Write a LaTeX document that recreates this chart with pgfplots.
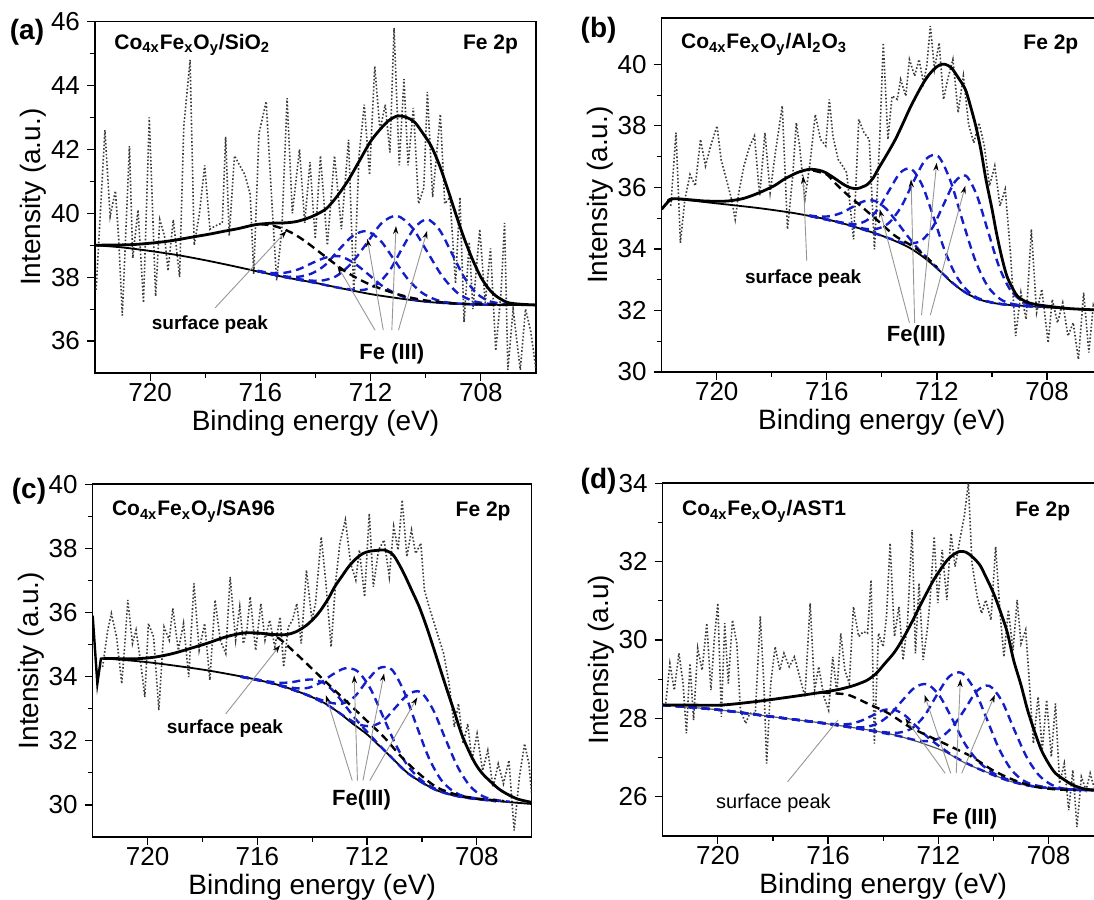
\documentclass[border=0pt]{standalone}
\usepackage{fontspec}
\setmainfont{Liberation Sans}
\usepackage{pgfplots}
\pgfplotsset{compat=1.18}
\usetikzlibrary{arrows.meta}
\definecolor{compblue}{RGB}{20,30,200}
\definecolor{noisegray}{RGB}{60,60,60}
\definecolor{anngray}{RGB}{150,150,150}
\pgfplotsset{
  xpsaxis/.style={
    scale only axis, anchor=south west,
    x dir=reverse, xmin=706, xmax=722,
    xtick={708,712,716,720},
    minor x tick num=1, minor y tick num=1,
    tick align=outside, xtick pos=left, ytick pos=left,
    major tick length=4pt, minor tick length=2.5pt,
    tick style={black, line width=0.6pt},
    axis line style={line width=0.7pt},
    ticklabel style={font=\fontsize{13}{15}\selectfont},
    xticklabel style={inner sep=1pt},
    /pgf/number format/assume math mode=true,
    label style={font=\fontsize{14}{16}\selectfont},
    xlabel={Binding energy (eV)},
    xlabel style={at={(axis description cs:0.5,-0.142)}, anchor=center, inner sep=0pt},
    ylabel style={at={(axis description cs:-0.14,0.5)}, anchor=center},
  },
  noisy/.style={noisegray, densely dotted, line width=0.8pt, mark=none},
  env/.style={black, line width=1.4pt, smooth, mark=none},
  bgl/.style={black, line width=0.9pt, smooth, mark=none},
  comp/.style={compblue, line width=1.2pt, dash pattern=on 4pt off 2.5pt, smooth, mark=none},
  surf/.style={black, line width=1.2pt, dash pattern=on 4pt off 2.5pt, smooth, mark=none},
}
\tikzset{
  ann/.style={anngray, line width=0.45pt, -{Stealth[length=4pt,width=2.6pt,color=black]}},
  annl/.style={anngray, line width=0.45pt},
  ttl/.style={font=\fontsize{10.5}{12}\selectfont\bfseries},
  sp/.style={font=\fontsize{9.5}{11}\selectfont\bfseries},
  fe/.style={font=\fontsize{11}{13}\selectfont\bfseries},
  plab/.style={font=\fontsize{14}{16}\selectfont\bfseries},
}
\begin{document}
\begin{tikzpicture}
\path[use as bounding box] (0,0) rectangle (547pt,450pt);

% ---------------- (a) ----------------
\begin{axis}[xpsaxis, at={(47.5pt,263.5pt)}, width=220.5pt, height=175.7pt,
  ymin=35, ymax=46, ytick={36,38,...,46}, ylabel={Intensity (a.u.)}]
\addplot[noisy] coordinates {(721.96,37.6) (721.64,42.6) (721.45,39.9) (721.26,40.7) (721.14,39.2) (721.01,36.8) (720.75,42.1) (720.63,38.6) (720.44,40.1) (720.24,37.2) (720.03,43.0) (719.80,37.4) (719.65,39.8) (719.48,39.3) (719.35,38.2) (719.16,39.8) (718.93,38.0) (718.78,42.7) (718.55,44.8) (718.40,39.0) (718.21,40.0) (718.02,41.5) (717.83,39.5) (717.64,39.6) (717.38,39.7) (717.26,42.4) (717.13,39.3) (716.94,41.8) (716.75,41.5) (716.56,41.2) (716.37,40.6) (716.24,38.1) (716.05,42.5) (715.79,43.5) (715.60,40.6) (715.41,37.9) (715.22,39.5) (715.03,43.6) (714.84,40.0) (714.58,42.0) (714.39,39.7) (714.20,41.6) (714.01,39.2) (713.82,41.8) (713.57,39.0) (713.31,41.8) (713.06,39.5) (712.80,42.3) (712.61,37.5) (712.42,41.8) (712.23,43.4) (712.04,41.2) (711.85,44.6) (711.66,42.6) (711.47,43.4) (711.30,41.9) (711.15,45.8) (710.96,41.5) (710.79,44.2) (710.64,41.5) (710.45,43.3) (710.26,40.3) (710.07,40.8) (709.94,43.8) (709.75,40.5) (709.47,43.1) (709.31,40.3) (709.12,40.5) (708.92,37.8) (708.76,40.5) (708.61,36.6) (708.42,39.1) (708.29,37.0) (708.04,39.5) (707.84,37.2) (707.65,38.9) (707.46,35.7) (707.27,37.5) (707.14,39.7) (707.02,35.1) (706.83,37.0) (706.57,35.1) (706.38,37.0) (706.19,36.3) (706.00,35.1)};
\addplot[bgl] coordinates {(722,39.0) (721,38.93) (720,38.82) (719,38.69) (718,38.53) (717,38.35) (716,38.16) (715,37.98) (714,37.82) (713,37.64) (712,37.47) (711,37.34) (710,37.23) (709,37.17) (708,37.14) (707,37.13) (706,37.12)};
\addplot[comp] coordinates {(716.1,38.20) (715.6,38.13) (715.1,38.14) (714.6,38.25) (714.1,38.45) (713.6,38.62) (713.1,38.65) (712.6,38.44) (712.1,38.10) (711.6,37.74) (711.1,37.49) (710.6,37.33) (710.1,37.25) (709.3,37.19) (708.3,37.15) (707.5,37.14)};
\addplot[comp] coordinates {(716.1,38.19) (715.15,38.03) (714.65,38.01) (714.15,38.11) (713.65,38.38) (713.15,38.86) (712.65,39.29) (712.15,39.44) (711.65,39.15) (711.15,38.55) (710.65,37.94) (710.15,37.52) (709.65,37.30) (709.15,37.20) (708.3,37.15) (707.5,37.14)};
\addplot[comp] coordinates {(716.1,38.19) (715.2,38.02) (714.35,37.91) (713.8,37.89) (713.25,38.03) (712.7,38.43) (712.15,39.05) (711.6,39.69) (711.05,39.92) (710.5,39.56) (709.95,38.80) (709.4,38.03) (708.85,37.51) (708.3,37.26) (707.75,37.17) (707.3,37.14)};
\addplot[comp] coordinates {(716.1,38.19) (715.0,37.98) (714.0,37.82) (713.3,37.69) (712.65,37.61) (712.2,37.61) (711.75,37.79) (711.3,38.22) (710.85,38.91) (710.4,39.55) (709.95,39.81) (709.5,39.48) (709.05,38.74) (708.6,37.99) (708.15,37.49) (707.7,37.25) (707.25,37.17) (707.0,37.14)};
\addplot[surf] coordinates {(716.0,39.66) (715.6,39.62) (715.2,39.52) (714.8,39.36) (714.4,39.14) (714.0,38.88) (713.5,38.55) (713.0,38.23) (712.5,37.97) (712.0,37.76) (711.5,37.6) (711.0,37.46) (710.5,37.35) (710.0,37.27) (709.5,37.22) (709.0,37.18) (708.5,37.16) (707.5,37.14) (707.0,37.13)};
\addplot[env] coordinates {(722.0,39.0) (721.0,39.01) (720.44,39.03) (719.8,39.08) (719.16,39.15) (718.5,39.25) (717.89,39.34) (717.3,39.44) (716.8,39.52) (716.2,39.64) (715.6,39.69) (715.1,39.70) (714.7,39.74) (714.3,39.84) (714.0,39.95) (713.6,40.15) (713.2,40.55) (712.8,41.05) (712.4,41.65) (712.0,42.25) (711.6,42.68) (711.3,42.93) (711.0,43.05) (710.7,43.0) (710.4,42.85) (710.1,42.5) (709.8,42.1) (709.5,41.5) (709.2,40.75) (708.9,39.95) (708.6,39.2) (708.3,38.55) (708.0,38.0) (707.7,37.62) (707.4,37.38) (707.0,37.2) (706.5,37.15) (706.0,37.13)};
\draw[ann] (axis cs:717.64,37.04) -- (axis cs:715.05,39.45);
\draw[ann] (axis cs:711.84,36.34) -- (axis cs:713.2,38.35);
\draw[ann] (axis cs:711.54,36.34) -- (axis cs:712.12,39.2);
\draw[ann] (axis cs:711.23,36.34) -- (axis cs:711.08,39.6);
\draw[ann] (axis cs:710.99,36.34) -- (axis cs:709.95,39.45);
\node[sp] at (axis cs:717.83,36.52) {surface peak};
\node[fe] at (axis cs:711.23,35.6) {Fe (III)};
\node[ttl, anchor=west] at (axis description cs:0.028,0.934) {Co\textsubscript{4x}Fe\textsubscript{x}O\textsubscript{y}/SiO\textsubscript{2}};
\node[ttl, anchor=east] at (axis description cs:0.975,0.934) {Fe 2p};
\end{axis}

% ---------------- (b) ----------------
\begin{axis}[xpsaxis, at={(330.85pt,264pt)}, width=220.2pt, height=176.9pt,
  ymin=30, ymax=41.5, ytick={30,32,...,40}, ylabel={Intensity (a.u.)}]
\addplot[noisy] coordinates {(721.67,35.4) (721.48,37.78) (721.32,34.2) (721.16,35.6) (720.97,36.42) (720.78,36.05) (720.59,37.56) (720.41,36.7) (720.22,37.35) (719.99,38.0) (719.84,36.9) (719.65,36.26) (719.46,35.6) (719.33,34.96) (719.20,35.83) (719.01,36.7) (718.82,37.3) (718.63,37.67) (718.44,35.72) (718.25,37.78) (718.06,35.83) (717.87,37.13) (717.62,38.65) (717.43,34.64) (717.24,36.37) (717.11,38.1) (716.99,37.35) (716.80,35.6) (716.61,36.8) (716.42,38.37) (716.23,37.56) (716.04,37.35) (715.91,38.86) (715.78,37.67) (715.59,36.91) (715.43,36.7) (715.28,36.48) (715.03,34.31) (714.84,38.21) (714.65,37.78) (714.46,37.56) (714.27,33.99) (714.08,37.56) (713.95,40.7) (713.78,37.56) (713.63,38.97) (713.44,38.86) (713.32,39.51) (713.13,38.97) (713.00,40.16) (712.81,39.62) (712.65,40.16) (712.49,39.40) (712.37,39.95) (712.24,41.25) (712.09,39.84) (711.92,40.7) (711.76,38.86) (711.61,39.51) (711.42,40.16) (711.23,38.43) (711.04,39.62) (710.85,38.05) (710.66,37.45) (710.47,38.1) (710.28,37.35) (710.09,36.05) (709.90,36.7) (709.71,35.4) (709.52,35.94) (709.33,33.88) (709.14,31.17) (708.95,32.58) (708.76,31.71) (708.57,34.64) (708.38,31.93) (708.19,32.69) (707.96,30.95) (707.81,32.36) (707.62,31.6) (707.43,32.25) (707.24,31.17) (707.05,31.6) (706.86,30.41) (706.67,32.58) (706.48,30.63) (706.32,32.15) (706.1,31.4)};
\addplot[bgl] coordinates {(722.0,35.29) (721.8,35.5) (721.6,35.63) (720.0,35.48) (718.5,35.33) (717.3,35.18) (716.5,35.05) (716.0,34.96) (715.5,34.85) (715.0,34.72) (714.5,34.58) (714.0,34.43) (713.5,34.25) (713.0,34.04) (712.5,33.74) (712.0,33.37) (711.5,32.94) (711.0,32.60) (710.5,32.37) (710.0,32.25) (709.5,32.19) (709.0,32.16) (708.0,32.10) (707.0,32.05) (706.0,32.0)};
\addplot[comp] coordinates {(716.65,35.09) (716.25,35.05) (715.85,35.07) (715.45,35.18) (715.05,35.37) (714.65,35.55) (714.25,35.56) (713.85,35.31) (713.45,34.87) (713.05,34.40) (712.65,33.97) (712.25,33.61) (711.85,33.25) (711.2,32.73) (710.5,32.37) (709.5,32.19) (708.5,32.13)};
\addplot[comp] coordinates {(716.6,35.07) (715.9,34.94) (715.33,34.84) (714.93,34.81) (714.53,34.94) (714.13,35.31) (713.73,35.91) (713.33,36.48) (712.93,36.60) (712.53,36.06) (712.13,35.05) (711.73,33.98) (711.33,33.17) (710.93,32.68) (710.53,32.41) (709.8,32.22) (708.5,32.13)};
\addplot[comp] coordinates {(716.6,35.07) (715.6,34.87) (714.65,34.66) (714.2,34.65) (713.75,34.84) (713.3,35.37) (712.85,36.19) (712.4,36.92) (711.95,37.01) (711.5,36.19) (711.05,34.86) (710.6,33.61) (710.15,32.78) (709.7,32.37) (709.25,32.21) (708.5,32.13)};
\addplot[comp] coordinates {(716.6,35.07) (715.5,34.85) (714.4,34.55) (713.35,34.23) (712.95,34.18) (712.55,34.28) (712.15,34.71) (711.75,35.46) (711.35,36.18) (710.95,36.38) (710.55,35.74) (710.15,34.59) (709.75,33.44) (709.35,32.69) (708.95,32.33) (708.55,32.17) (708.0,32.11)};
\addplot[surf] coordinates {(716.5,36.55) (716.0,36.42) (715.78,36.21) (715.3,35.8) (714.77,35.40) (714.14,34.91) (713.51,34.42) (712.87,34.08) (712.4,33.75) (712.0,33.40)};
\addplot[env] coordinates {(722.0,35.29) (721.8,35.5) (721.6,35.63) (721.0,35.6) (720.47,35.56) (720.0,35.55) (719.58,35.56) (719.08,35.63) (718.7,35.74) (718.32,35.88) (717.9,36.06) (717.56,36.26) (717.2,36.43) (716.92,36.53) (716.6,36.59) (716.3,36.56) (716.04,36.48) (715.66,36.26) (715.4,36.1) (715.15,35.99) (714.9,35.96) (714.7,36.02) (714.52,36.10) (714.3,36.33) (714.14,36.59) (713.8,37.1) (713.51,37.56) (713.25,38.05) (713.0,38.54) (712.75,38.98) (712.49,39.40) (712.3,39.65) (712.11,39.84) (711.9,39.98) (711.7,40.0) (711.48,39.89) (711.25,39.6) (710.97,39.19) (710.8,38.7) (710.59,38.0) (710.4,37.2) (710.22,36.26) (710.0,35.3) (709.84,34.53) (709.65,33.75) (709.46,33.12) (709.25,32.72) (709.08,32.47) (708.8,32.3) (708.44,32.2) (707.8,32.12) (707.18,32.06) (706.3,32.02) (706.0,32.0)};
\draw[ann] (axis cs:716.73,33.61) -- (axis cs:716.86,36.37);
\draw[ann] (axis cs:713.0,31.6) -- (axis cs:714.08,35.29);
\draw[ann] (axis cs:712.81,31.6) -- (axis cs:712.94,36.26);
\draw[ann] (axis cs:712.56,31.85) -- (axis cs:712.01,36.8);
\draw[ann] (axis cs:712.24,31.85) -- (axis cs:710.97,36.05);
\node[sp] at (axis cs:716.86,33.03) {surface peak};
\node[fe] at (axis cs:712.75,31.17) {Fe(III)};
\node[ttl, anchor=west] at (axis description cs:0.028,0.926) {Co\textsubscript{4x}Fe\textsubscript{x}O\textsubscript{y}/Al\textsubscript{2}O\textsubscript{3}};
\node[ttl, anchor=east] at (axis description cs:0.962,0.926) {Fe 2p};
\end{axis}

% ---------------- (c) ----------------
\begin{axis}[xpsaxis, at={(46.35pt,31.5pt)}, width=219.5pt, height=176.4pt,
  ymin=29, ymax=40, ytick={30,32,...,40}, ylabel={Intensity (a.u.)}]
\addplot[noisy] coordinates {(721.64,34.30) (721.45,35.45) (721.32,35.97) (721.13,35.24) (720.94,33.78) (720.81,35.24) (720.72,36.39) (720.55,35.03) (720.42,35.45) (720.23,34.30) (720.10,33.36) (719.97,35.66) (719.78,35.24) (719.59,32.95) (719.40,35.55) (719.21,35.14) (719.08,36.13) (718.88,34.82) (718.69,35.66) (718.50,33.99) (718.31,36.91) (718.12,34.82) (717.92,35.66) (717.73,33.89) (717.54,36.39) (717.35,35.14) (717.15,34.72) (716.99,37.11) (716.79,35.14) (716.64,36.18) (716.51,35.03) (716.38,35.45) (716.26,36.49) (716.06,34.82) (715.87,36.28) (715.72,35.14) (715.55,35.76) (715.36,34.93) (715.17,35.86) (715.04,34.30) (714.87,35.55) (714.72,35.76) (714.56,36.28) (714.40,35.03) (714.21,37.32) (714.01,35.76) (713.88,36.28) (713.67,38.36) (713.50,36.91) (713.31,34.93) (713.15,36.91) (712.99,38.16) (712.79,38.89) (712.60,37.53) (712.41,37.01) (712.28,37.95) (712.09,36.49) (711.92,39.09) (711.77,36.80) (711.58,37.95) (711.38,38.26) (711.19,37.11) (711.03,38.68) (710.87,37.95) (710.72,39.51) (710.55,37.74) (710.38,38.57) (710.23,37.84) (710.04,38.16) (709.91,36.70) (709.74,36.18) (709.59,35.76) (709.40,35.24) (709.21,34.72) (709.01,33.78) (708.82,32.43) (708.67,33.16) (708.50,31.91) (708.33,32.53) (708.18,31.39) (707.99,32.22) (707.79,31.07) (707.60,31.70) (707.41,30.55) (707.22,31.28) (707.03,30.66) (706.83,31.39) (706.64,29.20) (706.45,30.86) (706.26,31.91) (706.10,31.28) (706.0,30.3)};
\addplot[black, line width=1.2pt, mark=none] coordinates {(722.0,35.9) (721.83,33.78) (721.7,34.56) (721.6,34.57)};
\addplot[bgl] coordinates {(721.6,34.57) (720,34.45) (718,34.22) (716.5,33.99) (715.5,33.8) (715,33.68) (714.5,33.53) (714,33.36) (713.5,33.15) (713,32.86) (712.5,32.52) (712,32.2) (711.5,31.8) (711,31.39) (710.5,30.98) (710,30.7) (709.5,30.47) (709,30.33) (708.5,30.24) (708,30.18) (707,30.10) (706,30.03)};
\addplot[comp] coordinates {(716.6,34.0) (716.0,33.91) (715.6,33.85) (715.2,33.81) (714.8,33.82) (714.4,33.88) (714.0,33.91) (713.6,33.81) (713.2,33.53) (712.8,33.10) (712.4,32.66) (712.0,32.28) (711.6,31.91) (711.2,31.56) (710.5,30.98) (709.5,30.47) (708.5,30.24) (707.3,30.12)};
\addplot[comp] coordinates {(716.6,34.0) (715.8,33.86) (715.05,33.71) (714.6,33.64) (714.15,33.65) (713.7,33.81) (713.25,34.07) (712.8,34.26) (712.35,34.17) (711.9,33.66) (711.45,32.82) (711.0,31.96) (710.55,31.26) (710.1,30.83) (709.65,30.56) (708.8,30.29) (707.3,30.12)};
\addplot[comp] coordinates {(716.6,34.0) (715.5,33.8) (714.6,33.56) (713.8,33.31) (713.35,33.19) (712.9,33.16) (712.45,33.38) (712.0,33.87) (711.55,34.27) (711.1,34.22) (710.65,33.53) (710.2,32.48) (709.75,31.47) (709.3,30.78) (708.85,30.42) (708.4,30.26) (707.3,30.12)};
\addplot[comp] coordinates {(716.6,34.0) (715.4,33.78) (714.2,33.43) (713.4,33.09) (712.75,32.72) (712.3,32.51) (711.85,32.46) (711.4,32.63) (710.95,33.05) (710.5,33.45) (710.05,33.52) (709.6,32.98) (709.15,32.07) (708.7,31.19) (708.25,30.59) (707.8,30.28) (707.35,30.16) (706.8,30.1)};
\addplot[surf] coordinates {(716.2,35.36) (715.7,35.33) (715.23,35.2) (714.59,34.72) (713.95,34.2) (713.31,33.68) (712.67,33.16) (712.03,32.64) (711.38,32.11) (710.74,31.49) (710.1,30.97) (709.46,30.55) (708.82,30.34) (708.2,30.22) (707.54,30.16) (707.0,30.12)};
\addplot[env] coordinates {(721.6,34.57) (721.0,34.56) (720.36,34.56) (719.72,34.61) (719.08,34.72) (718.44,34.88) (717.79,35.05) (717.15,35.24) (716.51,35.36) (716.0,35.36) (715.49,35.32) (714.97,35.31) (714.59,35.40) (714.21,35.60) (713.9,35.85) (713.69,36.07) (713.4,36.45) (713.18,36.80) (712.9,37.15) (712.67,37.43) (712.4,37.68) (712.15,37.84) (711.9,37.91) (711.6,37.94) (711.38,37.95) (711.15,37.87) (711.0,37.74) (710.8,37.45) (710.62,37.15) (710.35,36.65) (710.1,36.18) (709.85,35.6) (709.59,34.93) (709.3,34.15) (709.08,33.57) (708.8,32.85) (708.56,32.22) (708.3,31.7) (708.05,31.28) (707.8,30.98) (707.54,30.76) (707.2,30.5) (706.9,30.34) (706.5,30.18) (706.0,30.08)};
\draw[ann] (axis cs:717.15,32.84) -- (axis cs:715.17,34.98);
\draw[ann] (axis cs:712.54,30.76) -- (axis cs:713.5,33.42);
\draw[ann] (axis cs:712.35,30.76) -- (axis cs:712.47,34.04);
\draw[ann] (axis cs:712.15,30.76) -- (axis cs:711.38,34.1);
\draw[ann] (axis cs:711.9,30.76) -- (axis cs:710.17,33.35);
\node[sp] at (axis cs:717.18,32.38) {surface peak};
\node[fe] at (axis cs:712.2,30.15) {Fe(III)};
\node[ttl, anchor=west] at (axis description cs:0.028,0.923) {Co\textsubscript{4x}Fe\textsubscript{x}O\textsubscript{y}/SA96};
\node[ttl, anchor=east] at (axis description cs:0.968,0.923) {Fe 2p};
\end{axis}

% ---------------- (d) ----------------
\begin{axis}[xpsaxis, at={(331.35pt,32pt)}, width=220.5pt, height=176.4pt,
  ymin=25, ymax=34, ytick={26,28,...,34}, ylabel={Intensity (a.u)}]
\addplot[noisy] coordinates {(721.89,28.38) (721.74,29.40) (721.58,28.72) (721.41,29.66) (721.26,28.89) (721.14,27.62) (721.01,29.40) (720.88,27.96) (720.73,29.79) (720.57,29.23) (720.40,30.43) (720.25,28.72) (720.13,30.0) (720.0,30.94) (719.87,28.04) (719.75,30.43) (719.62,28.89) (719.47,30.51) (719.31,29.91) (719.18,28.21) (718.99,27.87) (718.84,28.13) (718.64,28.13) (718.46,30.60) (718.33,28.89) (718.23,26.85) (718.08,28.89) (717.92,29.83) (717.75,29.23) (717.60,29.66) (717.41,29.32) (717.22,29.57) (717.03,29.06) (716.84,28.55) (716.65,30.94) (716.49,28.72) (716.34,29.32) (716.15,28.55) (715.98,28.21) (715.83,29.57) (715.68,28.64) (715.54,30.17) (715.39,29.23) (715.23,28.89) (715.08,30.85) (714.89,30.09) (714.72,30.21) (714.57,30.17) (714.44,31.53) (714.32,27.36) (714.17,30.17) (714.0,29.83) (713.88,30.60) (713.75,32.47) (713.59,30.09) (713.43,30.85) (713.28,29.49) (713.12,30.43) (712.95,32.81) (712.83,29.66) (712.70,31.45) (712.55,29.49) (712.40,30.26) (712.30,31.02) (712.15,32.64) (712.02,30.94) (711.86,32.30) (711.69,31.02) (711.54,32.72) (711.39,31.87) (711.22,32.55) (711.06,33.15) (710.91,34.0) (710.78,31.96) (710.59,31.11) (710.43,30.68) (710.28,31.02) (710.09,30.51) (709.92,32.38) (709.77,30.77) (709.62,29.57) (709.46,30.77) (709.29,29.74) (709.14,31.02) (709.0,29.91) (708.83,30.26) (708.71,29.06) (708.55,27.36) (708.38,28.55) (708.23,27.19) (708.07,28.47) (707.90,27.02) (707.75,28.38) (707.60,26.34) (707.43,26.85) (707.27,25.66) (707.12,26.68) (706.97,25.23) (706.81,26.51) (706.64,26.17) (706.49,26.60) (706.39,26.34) (706.2,26.0) (706.0,26.3)};
\addplot[black!65, line width=0.6pt, smooth, mark=none] coordinates {(722,28.34) (720,28.22) (718,28.04) (716,27.86) (714,27.64) (713,27.46) (712,27.22) (711.5,27.05) (711,26.85) (710.5,26.70) (710,26.56) (709.5,26.42) (709,26.32) (708.5,26.26) (708,26.21) (707,26.18) (706,26.16)};
\addplot[comp] coordinates {(722,28.34) (720,28.22) (718,28.04) (716.0,27.87) (715.6,27.85) (715.2,27.86) (714.8,27.94) (714.4,28.07) (714.0,28.21) (713.6,28.22) (713.2,28.07) (712.8,27.80) (712.4,27.53) (712.0,27.31) (711.6,27.11) (711.2,26.94) (710.5,26.70) (709.5,26.42) (708.5,26.26) (707.0,26.18) (706.3,26.17)};
\addplot[comp] coordinates {(722,28.34) (720,28.22) (718,28.04) (716.2,27.88) (715.1,27.78) (714.65,27.78) (714.2,27.87) (713.75,28.10) (713.3,28.46) (712.85,28.79) (712.4,28.87) (711.95,28.57) (711.5,27.99) (711.05,27.37) (710.6,26.94) (710.15,26.67) (709.7,26.50) (708.8,26.30) (707.5,26.19) (706.3,26.17)};
\addplot[comp] coordinates {(722,28.34) (720,28.22) (718,28.04) (716.0,27.86) (714.8,27.73) (713.85,27.64) (713.4,27.64) (712.95,27.75) (712.5,28.07) (712.05,28.60) (711.6,29.07) (711.15,29.16) (710.7,28.75) (710.25,28.00) (709.8,27.23) (709.35,26.69) (708.9,26.41) (708.45,26.29) (707.5,26.19) (706.3,26.17)};
\addplot[comp] coordinates {(722,28.34) (720,28.22) (718,28.04) (716,27.86) (714.5,27.69) (713.5,27.56) (712.85,27.45) (712.4,27.42) (711.95,27.50) (711.5,27.77) (711.05,28.22) (710.6,28.70) (710.15,28.83) (709.7,28.45) (709.25,27.72) (708.8,27.02) (708.35,26.55) (707.9,26.31) (707.45,26.21) (706.8,26.18) (706.3,26.17)};
\addplot[surf] coordinates {(716.2,28.66) (715.83,28.64) (715.27,28.6) (714.57,28.38) (713.81,28.13) (713.06,27.79) (712.3,27.53) (711.54,27.28) (710.78,27.02) (710.03,26.68) (709.27,26.43) (708.51,26.26) (707.75,26.19) (707.0,26.17)};
\addplot[env] coordinates {(722.0,28.34) (721.0,28.34) (719.87,28.34) (718.61,28.43) (717.35,28.55) (716.09,28.68) (715.6,28.74) (715.2,28.81) (714.9,28.88) (714.57,28.98) (714.25,29.15) (713.94,29.40) (713.6,29.68) (713.31,30.0) (713.0,30.4) (712.68,30.85) (712.4,31.23) (712.17,31.53) (711.9,31.82) (711.67,32.04) (711.45,32.18) (711.22,32.26) (711.0,32.24) (710.78,32.13) (710.5,31.92) (710.28,31.62) (710.0,31.2) (709.77,30.77) (709.5,30.2) (709.27,29.49) (709.0,28.85) (708.76,28.21) (708.5,27.65) (708.26,27.19) (708.0,26.85) (707.75,26.60) (707.4,26.42) (707.12,26.30) (706.7,26.2) (706.3,26.17) (706.0,26.15)};
\draw[annl] (axis cs:717.47,26.38) -- (axis cs:715.64,27.96);
\draw[ann] (axis cs:711.75,26.6) -- (axis cs:713.2,28.0);
\draw[ann] (axis cs:711.55,26.6) -- (axis cs:712.5,28.6);
\draw[ann] (axis cs:711.35,26.6) -- (axis cs:711.2,29.0);
\draw[ann] (axis cs:711.15,26.6) -- (axis cs:709.95,28.6);
\node[font=\fontsize{10}{12}\selectfont] at (axis cs:717.98,25.83) {surface peak};
\node[fe] at (axis cs:711.04,25.45) {Fe (III)};
\node[ttl, anchor=west] at (axis description cs:0.028,0.92) {Co\textsubscript{4x}Fe\textsubscript{x}O\textsubscript{y}/AST1};
\node[ttl, anchor=east] at (axis description cs:0.94,0.92) {Fe 2p};
\end{axis}

\node[plab] at (13.5pt,434pt) {(a)};
\node[plab] at (299.3pt,435pt) {(b)};
\node[plab] at (14.5pt,204.2pt) {(c)};
\node[plab] at (299.3pt,209.2pt) {(d)};
\end{tikzpicture}
\end{document}
